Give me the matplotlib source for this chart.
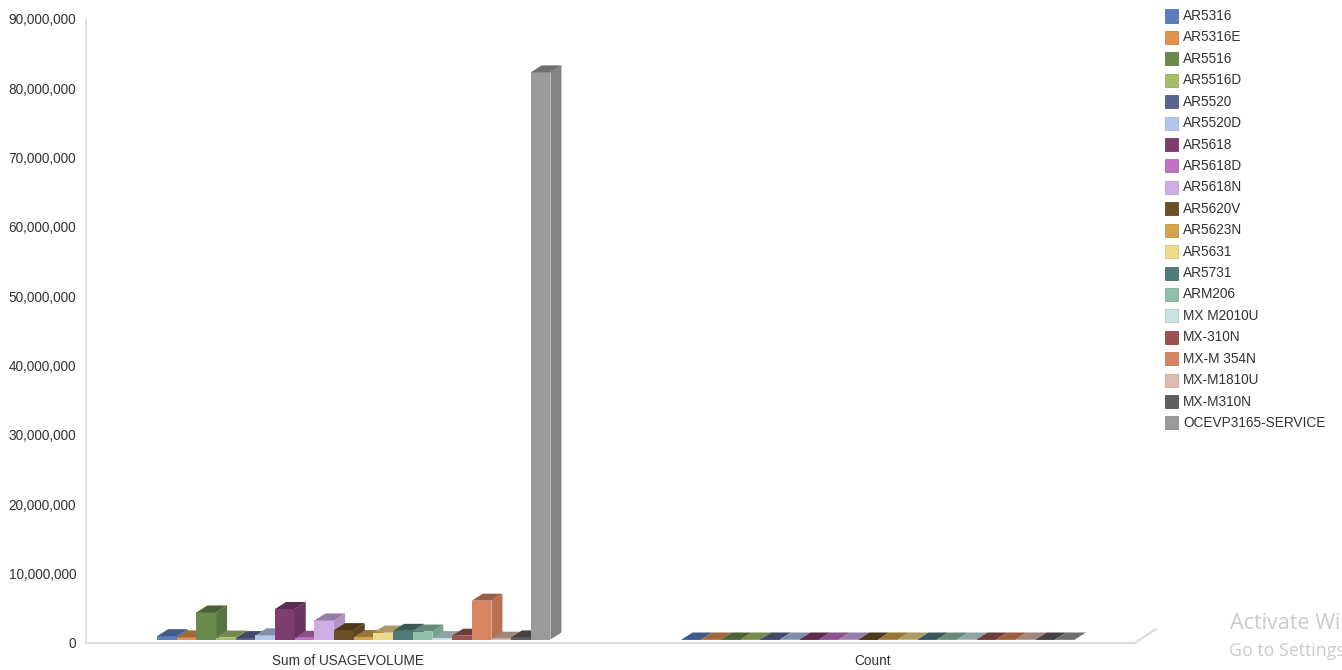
import matplotlib
matplotlib.use("Agg")
import matplotlib.pyplot as plt
from matplotlib.patches import Rectangle, Polygon
from matplotlib.colors import to_rgb

plt.rcParams['font.family'] = ['Liberation Sans', 'DejaVu Sans']

# dados por modelo
models = ['AR5316', 'AR5316E', 'AR5516', 'AR5516D', 'AR5520', 'AR5520D', 'AR5618',
          'AR5618D', 'AR5618N', 'AR5620V', 'AR5623N', 'AR5631', 'AR5731', 'ARM206',
          'MX M2010U', 'MX-310N', 'MX-M 354N', 'MX-M1810U', 'MX-M310N', 'OCEVP3165-SERVICE']
usage_volume = [480000, 300000, 3900000, 280000, 200000, 600000, 4400000,
                250000, 2750000, 1350000, 350000, 1000000, 1250000, 1150000,
                200000, 550000, 5600000, 120000, 300000, 81800000]
count = [12, 8, 35, 6, 4, 10, 40, 5, 22, 14, 6, 11, 13, 12, 3, 7, 30, 2, 5, 260]
categories = ['Sum of USAGEVOLUME', 'Count']

colors = ['#5b7ec0', '#e09250', '#6a8a4e', '#a8bd6a', '#5c6590', '#b3c6ea', '#7e3d6f',
          '#c071c4', '#cfaee6', '#6b4f27', '#d3a44a', '#efd98b', '#4f7b7a', '#8ec0aa',
          '#c9e3e3', '#9c5252', '#d98461', '#dfbcab', '#5e5e5e', '#9a9a9a']

W, H = 1342, 670
fig = plt.figure(figsize=(W / 100, H / 100), dpi=100)
ax_left, ax_right, ax_base, ax_top = 86, 1135, 643, 19
ax = fig.add_axes([ax_left / W, (H - ax_base) / H, (ax_right - ax_left) / W, (ax_base - ax_top) / H])
ax.set_xlim(-0.5, 1.5)
ax.set_ylim(0, 90e6)

# conversao pixel -> dados
px_x = 2.0 / (ax_right - ax_left)
px_y = 90e6 / (ax_base - ax_top)

depth_x, depth_y = 11 * px_x, 7 * px_y       # profundidade das barras
shift_x, shift_y = 5.5 * px_x, 3.5 * px_y    # barras no meio do piso
bar_w = 0.75 / len(models)


def shade(c, f):
    r, g, b = to_rgb(c)
    return (r * f, g * f, b * f)


def bar3d(x0, h, color, z):
    y0 = shift_y
    ax.add_patch(Rectangle((x0, y0), bar_w, h, facecolor=color, edgecolor='none', zorder=z))
    side = [(x0 + bar_w, y0), (x0 + bar_w + depth_x, y0 + depth_y),
            (x0 + bar_w + depth_x, y0 + h + depth_y), (x0 + bar_w, y0 + h)]
    ax.add_patch(Polygon(side, closed=True, facecolor=shade(color, 0.85), edgecolor='none', zorder=z))
    top = [(x0, y0 + h), (x0 + bar_w, y0 + h),
           (x0 + bar_w + depth_x, y0 + h + depth_y), (x0 + depth_x, y0 + h + depth_y)]
    ax.add_patch(Polygon(top, closed=True, facecolor=shade(color, 0.72), edgecolor='none', zorder=z))


for c, series in enumerate([usage_volume, count]):
    for i, v in enumerate(series):
        x0 = c - 0.375 + i * bar_w + shift_x
        bar3d(x0, v, colors[i], 3 + i * 0.01)

# piso
ax.plot([-0.5, 1.5, 1.5 + 21 * px_x], [0, 0, 14 * px_y], color='#dcdcdc', lw=1.6,
        clip_on=False, zorder=1, solid_joinstyle='miter')

for s in ['top', 'right', 'bottom']:
    ax.spines[s].set_visible(False)
ax.spines['left'].set_color('#dcdcdc')
ax.spines['left'].set_linewidth(1.2)

ax.set_yticks(range(0, 90000001, 10000000))
ax.set_yticklabels([f'{t:,}' for t in range(0, 90000001, 10000000)])
ax.set_xticks([0, 1])
ax.set_xticklabels(categories)
ax.tick_params(axis='y', length=0, pad=7, labelsize=9.8, labelcolor='#333333')
ax.tick_params(axis='x', length=0, pad=8, labelsize=9.8, labelcolor='#333333')

# legenda
for i, name in enumerate(models):
    yc = 16 + i * 21.42
    fig.add_artist(Rectangle((1165 / W, 1 - (yc + 6.5) / H), 12.5 / W, 13 / H,
                             transform=fig.transFigure, facecolor=colors[i],
                             edgecolor=shade(colors[i], 0.9), lw=0.6))
    fig.text(1183 / W, 1 - yc / H, name, fontsize=9.8, color='#333333', va='center', ha='left')

# marca d'agua do Windows
fig.text(1230 / W, 1 - 629 / H, 'Activate Windows', fontsize=15.5, color='#cbcbcb',
         family=['Open Sans', 'DejaVu Sans'], va='baseline')
fig.text(1229 / W, 1 - 656 / H, 'Go to Settings to activate Windows.', fontsize=12.8,
         color='#cbcbcb', family=['Open Sans', 'DejaVu Sans'], va='baseline')

fig.savefig('out.png', dpi=100, facecolor='white')
